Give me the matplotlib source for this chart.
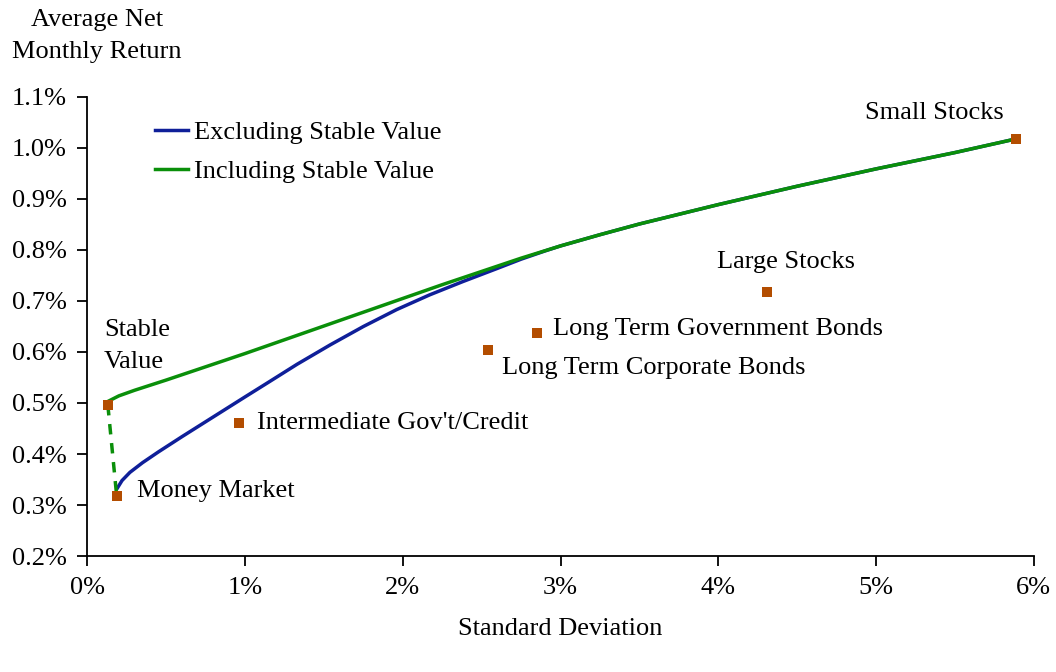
import matplotlib.pyplot as plt
from matplotlib.ticker import FuncFormatter

plt.rcParams['font.family'] = ['Liberation Serif', 'DejaVu Serif']

# asset classes: standard deviation (%) and average net monthly return (%)
asset_names = ['Stable\nValue', 'Money Market', "Intermediate Gov't/Credit",
               'Long Term Corporate Bonds', 'Long Term Government Bonds',
               'Large Stocks', 'Small Stocks']
asset_sd = [0.13, 0.186, 0.963, 2.54, 2.85, 4.31, 5.89]
asset_ret = [0.496, 0.318, 0.460, 0.604, 0.637, 0.718, 1.018]

# efficient frontier excluding stable value
excl_sd = [0.19, 0.22, 0.27, 0.35, 0.45, 0.6, 0.8, 1.0, 1.15, 1.33, 1.54,
           1.75, 1.96, 2.17, 2.38, 2.6, 2.75, 2.9, 3.0, 3.25, 3.5, 4.0, 4.5,
           5.0, 5.5, 5.89]
excl_ret = [0.333, 0.348, 0.364, 0.383, 0.404, 0.434, 0.473, 0.512, 0.541,
            0.576, 0.614, 0.650, 0.683, 0.712, 0.738, 0.764, 0.782, 0.798,
            0.808, 0.830, 0.851, 0.889, 0.925, 0.959, 0.991, 1.018]

# efficient frontier including stable value
incl_sd = [0.13, 0.2, 0.3, 0.5, 0.75, 1.0, 1.25, 1.5, 1.75, 2.0, 2.25, 2.5,
           2.75, 3.0, 3.25, 3.5, 4.0, 4.5, 5.0, 5.5, 5.89]
incl_ret = [0.503, 0.514, 0.525, 0.545, 0.571, 0.597, 0.624, 0.651, 0.678,
            0.705, 0.732, 0.758, 0.784, 0.808, 0.830, 0.851, 0.889, 0.925,
            0.959, 0.991, 1.018]

fig = plt.figure(figsize=(10.56, 6.72), dpi=100)
ax = fig.add_axes([0.0827, 0.1726, 0.8963, 0.6831])

blue = '#0f1f99'
green = '#0a8f0a'
brown = '#b34d00'

ax.plot(excl_sd, excl_ret, color=blue, lw=2.5, label='Excluding Stable Value',
        zorder=2, solid_joinstyle='round')
ax.plot(incl_sd, incl_ret, color=green, lw=2.5, label='Including Stable Value',
        zorder=3, solid_joinstyle='round')
# dashed link between stable value and money market
ax.plot(asset_sd[:2], asset_ret[:2], color=green, lw=2.5, ls=(0, (3, 2.5)), zorder=3)
ax.plot(asset_sd, asset_ret, ls='none', marker='s', ms=7, color=brown,
        markeredgewidth=0, zorder=4)

fs = 19
label_pos = [(0.106, 0.612, 'left'), (0.315, 0.327, 'left'), (1.074, 0.461, 'left'),
             (2.63, 0.569, 'left'), (2.95, 0.645, 'left'), (4.43, 0.776, 'center'),
             (5.37, 1.069, 'center')]
for name, (lx, ly, ha) in zip(asset_names, label_pos):
    ax.text(lx, ly, name, fontsize=fs, ha=ha, va='center', linespacing=1.6)

ax.set_xlim(0, 6)
ax.set_ylim(0.2, 1.1)
ax.set_xticks(range(0, 7))
ax.set_yticks([0.2, 0.3, 0.4, 0.5, 0.6, 0.7, 0.8, 0.9, 1.0, 1.1])
ax.xaxis.set_major_formatter(FuncFormatter(lambda v, p: f'{v:.0f}%'))
ax.yaxis.set_major_formatter(FuncFormatter(lambda v, p: f'{v:.1f}%'))
ax.tick_params(labelsize=fs, length=7, width=1.3, direction='out', pad=8)
for s in ['top', 'right']:
    ax.spines[s].set_visible(False)
for s in ['left', 'bottom']:
    ax.spines[s].set_linewidth(1.3)

ax.set_xlabel('Standard Deviation', fontsize=fs, labelpad=14)
fig.text(0.092, 0.946, 'Average Net\nMonthly Return', fontsize=fs, ha='center',
         va='center', linespacing=1.6)

ax.legend(loc='upper left', bbox_to_anchor=(0.046, 1.0), frameon=False,
          fontsize=fs, handlelength=1.25, handletextpad=0.25, labelspacing=0.58)

fig.savefig('out.png', dpi=100)
